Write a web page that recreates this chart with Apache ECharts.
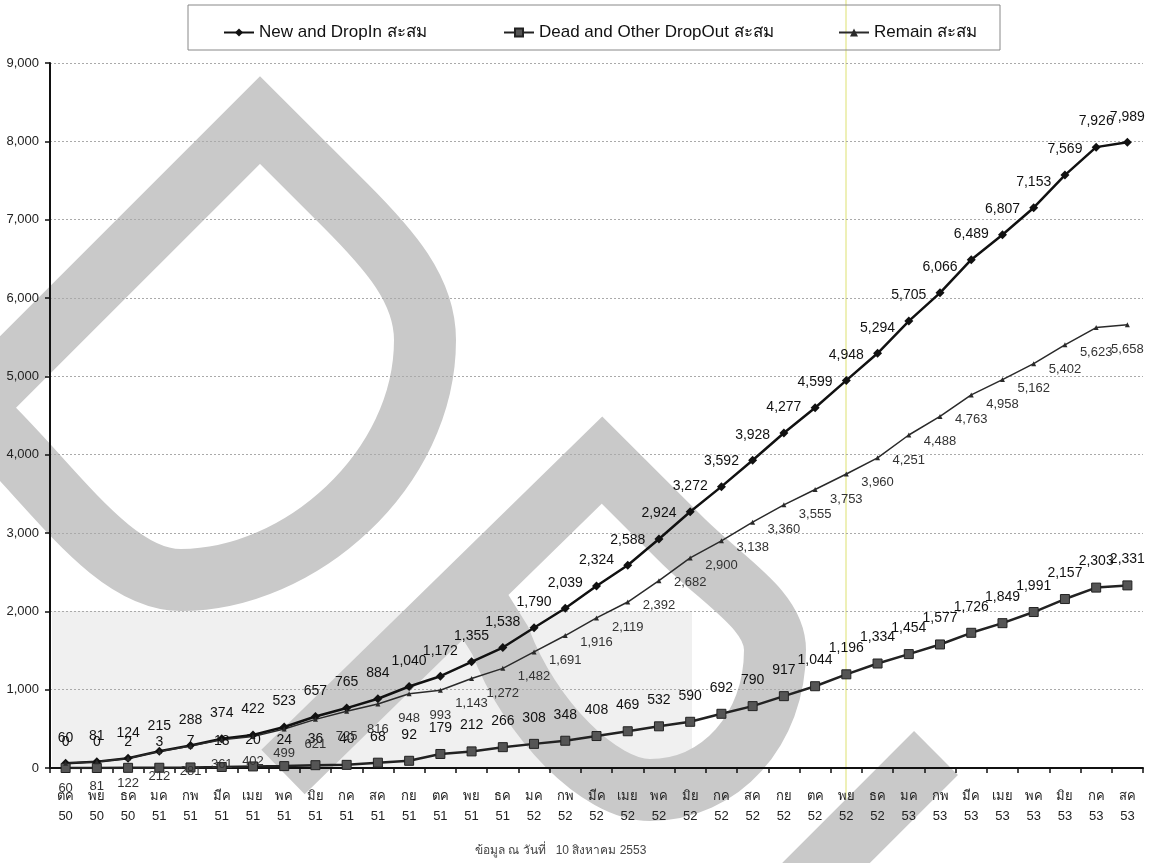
<!DOCTYPE html>
<html>
<head>
<meta charset="utf-8">
<script src="https://cdn.jsdelivr.net/npm/echarts@6/dist/echarts.min.js"></script>
<style>
html,body{margin:0;padding:0;background:#fff;}
#chart{width:1153px;height:863px;}
</style>
</head>
<body>
<div id="chart"></div>
<script>
// ---- data ----
const categories = ['ตค\n50','พย\n50','ธค\n50','มค\n51','กพ\n51','มีค\n51','เมย\n51','พค\n51','มิย\n51','กค\n51','สค\n51','กย\n51','ตค\n51','พย\n51','ธค\n51','มค\n52','กพ\n52','มีค\n52','เมย\n52','พค\n52','มิย\n52','กค\n52','สค\n52','กย\n52','ตค\n52','พย\n52','ธค\n52','มค\n53','กพ\n53','มีค\n53','เมย\n53','พค\n53','มิย\n53','กค\n53','สค\n53'];
const newDropIn = [60,81,124,215,288,374,422,523,657,765,884,1040,1172,1355,1538,1790,2039,2324,2588,2924,3272,3592,3928,4277,4599,4948,5294,5705,6066,6489,6807,7153,7569,7926,7989];
const deadDropOut = [0,0,2,3,7,13,20,24,36,40,68,92,179,212,266,308,348,408,469,532,590,692,790,917,1044,1196,1334,1454,1577,1726,1849,1991,2157,2303,2331];
const remain = [60,81,122,212,281,361,402,499,621,725,816,948,993,1143,1272,1482,1691,1916,2119,2392,2682,2900,3138,3360,3555,3753,3960,4251,4488,4763,4958,5162,5402,5623,5658];
const seriesNames = ['New and DropIn สะสม','Dead and Other DropOut สะสม','Remain สะสม'];
const footerText = 'ข้อมูล ณ วันที่   10 สิงหาคม 2553';

const FONT = "'Liberation Sans Narrow','Arial Narrow','Liberation Sans',Arial,sans-serif";
const fmt = p => Number(p.value).toLocaleString('en-US');

// watermark decoration (scanned logo), drawn behind the data
const watermarkPaths = [
  'M -120 500 L 260 120 L 345 205 C 390 250 425 290 425 340 C 425 470 300 580 181 580 C 110 580 50 480 -28 408',
  'M 283 772 L 602 460 L 680 538 C 725 583 775 610 775 650 C 775 730 720 790 650 790 C 600 790 530 720 500 640 L 470 592',
  'M 936 753 L 690 999'
];

const chart = echarts.init(document.getElementById('chart'), null, {renderer:'canvas'});
const legendText = {fontFamily:FONT, fontSize:17, color:'#111'};
const option = {
  animation: false,
  backgroundColor: '#ffffff',
  textStyle: {fontFamily: FONT},
  grid: {left: 50, right: 10, top: 63, bottom: 95, containLabel: false},
  legend: [
    {data:[seriesNames[0]], left: 218, top: 19, itemWidth: 30, itemHeight: 10, itemGap: 4, textStyle: legendText},
    {data:[seriesNames[1]], left: 498, top: 19, itemWidth: 30, itemHeight: 10, itemGap: 4, textStyle: legendText},
    {data:[seriesNames[2]], left: 833, top: 19, itemWidth: 30, itemHeight: 10, itemGap: 4, textStyle: legendText}
  ],
  graphic: [
    {type:'rect', z:-10, silent:true, shape:{x:52, y:611, width:640, height:156},
     style:{fill:'#f0f0f0'}},
    {type:'line', z:-5, silent:true, shape:{x1:846, y1:0, x2:846, y2:863},
     style:{stroke:'#eef0b8', lineWidth:2}},
    {type:'rect', z:5, silent:true, shape:{x:188, y:5, width:812, height:45},
     style:{fill:null, stroke:'#888', lineWidth:1}},
    {type:'text', z:5, silent:true, left:475, top:845,
     style:{text:footerText, fontSize:12, fontFamily:FONT, fill:'#444'}}
  ],
  xAxis: {
    type:'category', data: categories, boundaryGap: true, z: 3,
    axisLine:{lineStyle:{color:'#111', width:2}},
    axisTick:{show:true, length:5, lineStyle:{color:'#111', width:1.5}},
    axisLabel:{color:'#222', fontSize:13, lineHeight:20, margin:18, interval:0, fontFamily:FONT},
    splitLine:{show:false}
  },
  yAxis: {
    type:'value', min:0, max:9000, interval:1000, z: 3,
    axisLine:{show:true, lineStyle:{color:'#111', width:2}},
    axisTick:{show:true, length:5, lineStyle:{color:'#111', width:1.5}},
    axisLabel:{color:'#222', fontSize:13, margin:11, fontFamily:FONT,
      formatter: v => v.toLocaleString('en-US')},
    splitLine:{show:true, lineStyle:{color:'#aaaaaa', width:1, type:[2,2]}}
  },
  series: [
    {type:'custom', coordinateSystem:'none', data:[0], z:1, silent:true,
     renderItem: function(){
       return {type:'group', children: watermarkPaths.map(d => ({
         type:'path', shape:{pathData:d},
         style:{fill:null, stroke:'#c9c9c9', lineWidth:62, lineJoin:'miter', lineCap:'butt'}
       }))};
     }},
    {name: seriesNames[0], type:'line', data: newDropIn, z:4,
     symbol:'diamond', symbolSize:9,
     lineStyle:{color:'#111', width:2.5}, itemStyle:{color:'#111'},
     label:{show:true, position:'top', distance:14, fontSize:14, color:'#111', fontFamily:FONT, formatter: fmt}},
    {name: seriesNames[1], type:'line', data: deadDropOut, z:4,
     symbol:'rect', symbolSize:9,
     lineStyle:{color:'#222', width:2.5}, itemStyle:{color:'#555', borderColor:'#222', borderWidth:1},
     label:{show:true, position:'top', distance:14, fontSize:14, color:'#111', fontFamily:FONT, formatter: fmt}},
    {name: seriesNames[2], type:'line', data: remain, z:4,
     symbol:'triangle', symbolSize:5,
     lineStyle:{color:'#2a2a2a', width:1.5}, itemStyle:{color:'#2a2a2a'},
     label:{show:true, position:'bottom', distance:16, fontSize:13, color:'#333', fontFamily:FONT, formatter: fmt}}
  ]
};
chart.setOption(option);
</script>
</body>
</html>
